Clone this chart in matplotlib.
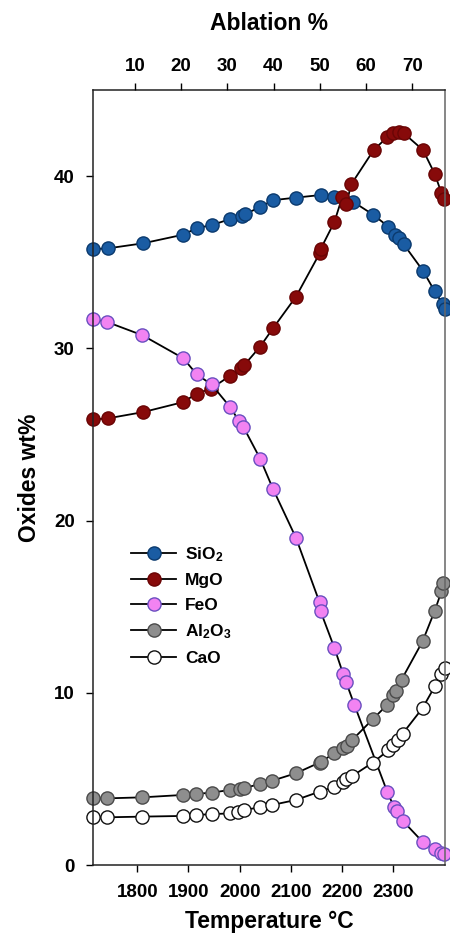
import matplotlib.pyplot as plt
from matplotlib.ticker import FixedLocator

plt.rcParams['font.family'] = ['Liberation Sans', 'DejaVu Sans']
plt.rcParams['font.weight'] = 'bold'
plt.rcParams['mathtext.fontset'] = 'custom'
plt.rcParams['mathtext.rm'] = 'Liberation Sans:bold'
plt.rcParams['mathtext.bf'] = 'Liberation Sans:bold'
plt.rcParams['mathtext.default'] = 'bf'

# --- data (temperature in °C, oxide in wt%) ---
t_sio2 = [1714, 1742, 1812, 1890, 1916, 1945, 1981, 2004, 2011, 2040, 2065, 2110,
          2158, 2185, 2222, 2261, 2290, 2303, 2312, 2320, 2358, 2381, 2397, 2401]
sio2 = [35.76, 35.8, 36.1, 36.6, 36.98, 37.15, 37.5, 37.7, 37.8, 38.2, 38.6, 38.75,
        38.9, 38.8, 38.5, 37.75, 37.07, 36.6, 36.4, 36.05, 34.5, 33.3, 32.56, 32.3]

t_mgo = [1714, 1742, 1812, 1890, 1916, 1944, 1981, 2002, 2009, 2040, 2065, 2110,
         2157, 2158, 2185, 2200, 2208, 2218, 2262, 2288, 2299, 2311, 2320, 2358,
         2381, 2394, 2399]
mgo = [25.87, 25.93, 26.3, 26.88, 27.37, 27.66, 28.4, 28.87, 29.03, 30.1, 31.16, 33.0,
       35.56, 35.76, 37.34, 38.76, 38.37, 39.53, 41.53, 42.25, 42.5, 42.58, 42.5, 41.51,
       40.12, 39.01, 38.66]

t_feo = [1714, 1741, 1810, 1890, 1916, 1945, 1981, 1999, 2007, 2040, 2065, 2110,
         2156, 2158, 2185, 2202, 2208, 2224, 2288, 2301, 2308, 2318, 2357, 2381,
         2394, 2399]
feo = [31.69, 31.53, 30.76, 29.42, 28.49, 27.9, 26.6, 25.77, 25.45, 23.59, 21.84, 18.99,
       15.25, 14.73, 12.6, 11.1, 10.6, 9.3, 4.26, 3.39, 3.16, 2.58, 1.35, 0.91,
       0.72, 0.64]

t_al2o3 = [1714, 1741, 1810, 1890, 1915, 1945, 1981, 2000, 2008, 2040, 2064, 2110,
           2156, 2159, 2185, 2202, 2209, 2220, 2260, 2288, 2299, 2306, 2316, 2357,
           2381, 2394, 2397]
al2o3 = [3.87, 3.87, 3.93, 4.07, 4.13, 4.2, 4.36, 4.42, 4.46, 4.71, 4.9, 5.33,
         5.95, 6.0, 6.49, 6.78, 6.92, 7.27, 8.47, 9.3, 9.88, 10.13, 10.76, 12.98,
         14.77, 15.89, 16.38]

t_cao = [1714, 1741, 1810, 1890, 1915, 1945, 1981, 1997, 2008, 2040, 2064, 2110,
         2156, 2185, 2202, 2208, 2220, 2260, 2290, 2299, 2309, 2318, 2357, 2381,
         2394, 2401]
cao = [2.77, 2.77, 2.81, 2.85, 2.91, 2.95, 3.0, 3.1, 3.2, 3.35, 3.49, 3.78,
       4.26, 4.55, 4.84, 4.98, 5.17, 5.95, 6.65, 6.98, 7.23, 7.62, 9.11, 10.37,
       11.1, 11.43]

temp_ticks = [1800, 1900, 2000, 2100, 2200, 2300]
abl_ticks = [10, 20, 30, 40, 50, 60, 70]
y_ticks = [0, 10, 20, 30, 40]

fig = plt.figure(figsize=(4.5, 9.46), dpi=100)
ax = fig.add_axes([0.206, 0.0856, 0.783, 0.8193])

series = [
    (t_sio2, sio2, 'SiO$_2$', '#1a5ca3', '#0b3a6e'),
    (t_mgo, mgo, 'MgO', '#870a0a', '#6a0505'),
    (t_feo, feo, 'FeO', '#f283f2', '#6a4fc0'),
    (t_al2o3, al2o3, 'Al$_2$O$_3$', '#8e8e8e', '#4a4a4a'),
    (t_cao, cao, 'CaO', 'white', '#111111'),
]
for t, v, lab, fc, ec in series:
    ax.plot(t, v, '-', color='black', lw=1.3, marker='o', ms=9.5,
            mfc=fc, mec=ec, mew=1.0, label=lab, clip_on=False)

ax.set_xlim(1713, 2401)
ax.set_ylim(0, 45)
ax.set_xticks(temp_ticks)
ax.set_yticks(y_ticks)
ax.tick_params(axis='both', direction='out', length=5, width=1, labelsize=13.5)
ax.tick_params(axis='x', pad=9)
ax.tick_params(axis='y', pad=8)
ax.set_xlabel('Temperature °C', fontsize=16.5, fontweight='bold', labelpad=6)
ax.set_ylabel('Oxides wt%', fontsize=16.5, fontweight='bold', labelpad=9)
for sp in ax.spines.values():
    sp.set_linewidth(1.1)
    sp.set_color('#222222')
ax.spines['right'].set_color('#666666')

ax2 = ax.twiny()
ax2.set_xlim(0.85, 77.1)
ax2.xaxis.set_major_locator(FixedLocator(abl_ticks))
ax2.tick_params(axis='x', direction='out', length=5, width=1, labelsize=13.5, pad=6)
ax2.set_xlabel('Ablation %', fontsize=16.5, fontweight='bold', labelpad=20)
for sp in ax2.spines.values():
    sp.set_visible(False)

leg = ax.legend(loc='upper left', bbox_to_anchor=(0.09, 0.422), frameon=False,
                fontsize=12.5, handlelength=2.6, handletextpad=0.5,
                labelspacing=0.55, borderaxespad=0)

fig.savefig('out.png', dpi=100)
